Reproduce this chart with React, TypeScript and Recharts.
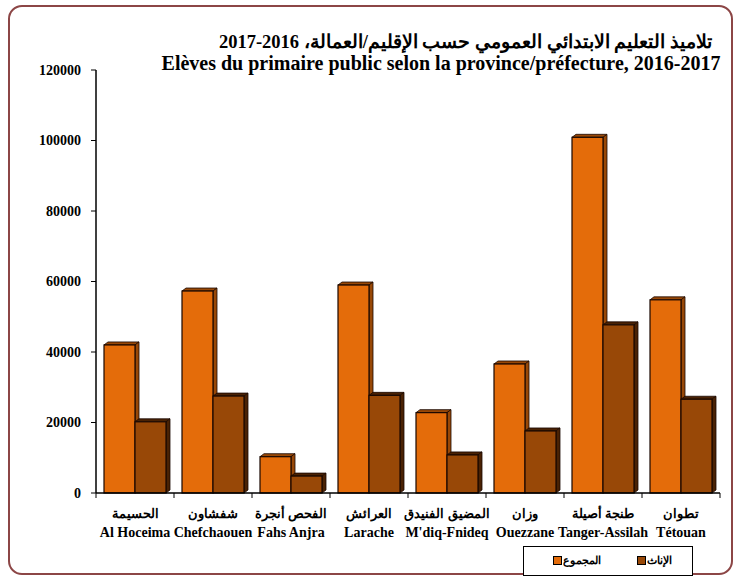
import { BarChart, Bar, XAxis, YAxis } from 'recharts'

const arNames = ['الحسيمة', 'شفشاون', 'الفحص أنجرة', 'العرائش', 'المضيق الفنيدق', 'وزان', 'طنجة أصيلة', 'تطوان']
const frNames = ['Al Hoceima', 'Chefchaouen', 'Fahs Anjra', 'Larache', "M'diq-Fnideq", 'Ouezzane', 'Tanger-Assilah', 'Tétouan']
const total = [42000, 57300, 10300, 59000, 22800, 36600, 100900, 54800]
const female = [20200, 27500, 4800, 27700, 10800, 17600, 47700, 26600]
const yTicks = [0, 20000, 40000, 60000, 80000, 100000, 120000]

const TOTAL_NAME = 'المجموع'
const FEMALE_NAME = 'الإناث'
const TOTAL_COLOR = '#E46C0A'
const TOTAL_SIDE = '#984807'
const FEMALE_COLOR = '#984807'
const FEMALE_SIDE = '#4A2204'
const EDGE = '#1A0800'
const FONT = "'Liberation Serif', 'Times New Roman', serif"

const W = 736
const H = 578
const PLOT_LEFT = 96
const PLOT_RIGHT = 720
const BAND = (PLOT_RIGHT - PLOT_LEFT) / frNames.length

const data = frNames.map((fr, i) => ({
  name: fr,
  ar: arNames[i],
  total: total[i],
  female: female[i],
}))

function make3D(sideColor: string) {
  return (props: any) => {
    const { x, y, width, height, fill } = props
    if (!height || height <= 0) return <g />
    const d = 4
    const dz = 3
    return (
      <g>
        <polygon
          points={`${x},${y} ${x + d},${y - dz} ${x + width + d},${y - dz} ${x + width},${y}`}
          fill={sideColor}
          stroke={EDGE}
          strokeWidth={0.8}
        />
        <polygon
          points={`${x + width},${y} ${x + width + d},${y - dz} ${x + width + d},${y + height - dz} ${x + width},${y + height}`}
          fill={sideColor}
          stroke={EDGE}
          strokeWidth={0.8}
        />
        <rect x={x} y={y} width={width} height={height} fill={fill} stroke={EDGE} strokeWidth={1.2} />
      </g>
    )
  }
}

function CategoryTick(props: any) {
  const { x, y, payload, index } = props
  const i = payload?.index ?? index
  const left = x - BAND / 2
  return (
    <g>
      <line x1={left} x2={left} y1={y} y2={y + 5} stroke="#000" strokeWidth={1} />
      {i === frNames.length - 1 && (
        <line x1={x + BAND / 2} x2={x + BAND / 2} y1={y} y2={y + 5} stroke="#000" strokeWidth={1} />
      )}
      <text x={x} y={y + 25} textAnchor="middle" fontFamily={FONT} fontWeight="bold" fontSize={12.5} fill="#000">
        {arNames[i]}
      </text>
      <text x={x} y={y + 44} textAnchor="middle" fontFamily={FONT} fontWeight="bold" fontSize={14} fill="#000">
        {frNames[i]}
      </text>
    </g>
  )
}

function LegendBox() {
  const items = [
    { name: TOTAL_NAME, color: TOTAL_COLOR },
    { name: FEMALE_NAME, color: FEMALE_COLOR },
  ]
  return (
    <div
      style={{
        position: 'absolute',
        left: 523,
        top: 546,
        width: 170,
        height: 30,
        border: '1px solid #000',
        background: '#fff',
        display: 'flex',
        alignItems: 'center',
        paddingLeft: 29,
        paddingBottom: 2,
        boxSizing: 'border-box',
        gap: 36,
        fontFamily: FONT,
        fontWeight: 'bold',
        fontSize: 11,
      }}
    >
      {items.map((it) => (
        <div key={it.name} style={{ display: 'flex', alignItems: 'center', gap: 1 }}>
          <span style={{ width: 7, height: 7, background: it.color, border: '1px solid #000', display: 'inline-block' }} />
          <span dir="rtl">{it.name}</span>
        </div>
      ))}
    </div>
  )
}

export default function App() {
  return (
    <div style={{ position: 'absolute', left: 0, top: 0, width: W, height: H, background: '#fff' }}>
      <div
        style={{
          position: 'absolute',
          left: 8,
          top: 5,
          width: 725,
          height: 570,
          border: '2px solid #8C4646',
          borderRadius: 14,
          boxSizing: 'border-box',
        }}
      />
      <div
        dir="rtl"
        style={{
          position: 'absolute',
          left: 228,
          top: 31,
          width: 484,
          textAlign: 'center',
          whiteSpace: 'nowrap',
          fontFamily: FONT,
          fontWeight: 'bold',
          fontSize: 18.5,
          lineHeight: '22px',
        }}
      >
        تلاميذ التعليم الابتدائي العمومي حسب الإقليم/العمالة،  2016-2017
      </div>
      <div
        style={{
          position: 'absolute',
          left: 160,
          top: 52,
          width: 562,
          textAlign: 'center',
          whiteSpace: 'nowrap',
          fontFamily: FONT,
          fontWeight: 'bold',
          fontSize: 20,
          lineHeight: '22px',
        }}
      >
        Elèves du primaire public selon la province/préfecture, 2016-2017
      </div>
      <div style={{ position: 'absolute', left: 0, top: 0 }}>
        <BarChart
          width={W}
          height={H}
          data={data}
          margin={{ top: 70, right: W - PLOT_RIGHT, left: 0, bottom: 35 }}
          barCategoryGap={8}
          barGap={0}
        >
          <YAxis
            width={PLOT_LEFT}
            domain={[0, 120000]}
            ticks={yTicks}
            interval={0}
            tickSize={5}
            tickMargin={10}
            axisLine={{ stroke: '#000', strokeWidth: 1.5 }}
            tickLine={{ stroke: '#000' }}
            tick={{ fontFamily: FONT, fontWeight: 'bold', fontSize: 14, fill: '#000' }}
          />
          <XAxis
            dataKey="name"
            height={50}
            interval={0}
            tickSize={0}
            tickMargin={0}
            tickLine={false}
            axisLine={{ stroke: '#000', strokeWidth: 1.5 }}
            tick={<CategoryTick />}
          />
          <Bar dataKey="total" name={TOTAL_NAME} fill={TOTAL_COLOR} shape={make3D(TOTAL_SIDE)} isAnimationActive={false} />
          <Bar dataKey="female" name={FEMALE_NAME} fill={FEMALE_COLOR} shape={make3D(FEMALE_SIDE)} isAnimationActive={false} />
        </BarChart>
      </div>
      <LegendBox />
    </div>
  )
}
